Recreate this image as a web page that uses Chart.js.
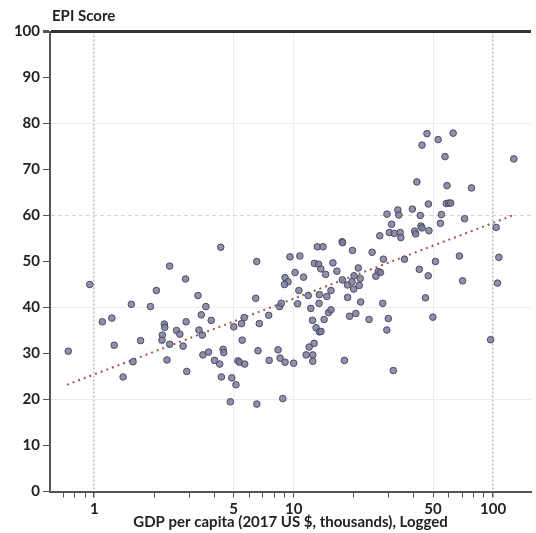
<!DOCTYPE html>
<html>
<head>
<meta charset="utf-8">
<script src="https://cdn.jsdelivr.net/npm/chart.js@4"></script>
<style>
  html, body { margin: 0; padding: 0; background: #fff; }
  canvas { display: block; }
</style>
</head>
<body>
<canvas id="epiChart" width="536" height="533"></canvas>
<script>
// GDP per capita (2017 US $, thousands)
const gdp = [
  0.741, 0.950, 1.098, 1.226, 1.259, 1.396, 1.535, 1.565, 1.707, 1.914,
  2.050, 2.389, 2.246, 2.256, 2.195, 2.188, 2.389, 2.316, 2.588, 2.687,
  2.791, 2.869, 2.888, 2.911, 3.312, 3.443, 3.629, 3.350, 3.483, 3.507,
  3.743, 3.861, 4.009, 4.259, 4.342, 4.428, 4.458, 4.813, 4.896, 5.136,
  5.009, 5.255, 5.352, 5.520, 5.681, 5.477, 5.649, 6.455, 6.530, 6.727,
  6.627, 6.537, 7.497, 7.540, 8.356, 8.551, 9.054, 8.820, 10.00, 8.502,
  8.670, 9.054, 9.369, 9.000, 9.585, 10.17, 10.47, 4.307, 10.74, 12.71,
  13.34, 13.69, 15.74, 14.47, 16.48, 11.21, 10.62, 11.84, 13.46, 14.67,
  15.39, 17.57, 18.64, 19.63, 20.08, 20.01, 21.09, 21.58, 21.33, 18.64,
  21.68, 19.74, 12.19, 13.41, 14.97, 15.39, 14.22, 12.43, 12.96, 13.46,
  13.72, 19.07, 20.50, 12.67, 11.97, 11.56, 12.47, 12.47, 17.97, 17.51,
  17.60, 13.15, 14.04, 24.75, 28.19, 35.96, 51.43, 67.82, 106.9, 26.57,
  27.24, 25.82, 42.68, 47.31, 70.36, 105.3, 45.81, 27.97, 23.89, 29.85,
  49.93, 29.34, 97.20, 31.61, 46.62, 63.10, 53.04, 44.03, 57.45, 127.1,
  41.49, 58.78, 77.96, 47.42, 58.32, 59.94, 61.33, 39.40, 33.31, 33.69,
  29.38, 43.17, 55.08, 71.96, 30.99, 54.45, 43.52, 44.03, 47.70, 40.45,
  40.92, 30.20, 31.97, 34.23, 34.47, 27.03, 103.7
];

// EPI score
const epi = [
  30.5, 45.0, 36.9, 37.7, 31.8, 24.9, 40.7, 28.2, 32.8, 40.2,
  43.7, 49.0, 36.4, 35.7, 34.0, 32.9, 32.0, 28.6, 35.0, 34.2,
  31.6, 46.2, 36.9, 26.1, 42.6, 38.4, 40.2, 35.1, 34.0, 29.7,
  30.3, 37.2, 28.5, 27.7, 24.9, 30.9, 30.2, 19.5, 24.7, 23.2,
  35.8, 28.4, 28.1, 32.9, 27.7, 36.5, 37.8, 42.0, 50.0, 36.5,
  30.6, 19.0, 38.3, 28.5, 30.8, 29.0, 28.1, 20.2, 27.9, 40.2,
  40.9, 46.5, 45.6, 45.0, 51.0, 47.6, 40.8, 53.1, 51.2, 49.6,
  49.4, 48.4, 49.7, 47.2, 47.9, 46.6, 43.7, 42.6, 42.8, 42.4,
  43.7, 46.0, 44.9, 45.6, 46.9, 44.0, 48.6, 46.3, 44.8, 42.2,
  41.2, 52.4, 39.8, 40.9, 38.9, 39.5, 37.4, 37.2, 35.6, 34.7,
  34.8, 38.1, 38.7, 32.2, 31.4, 29.7, 29.7, 28.3, 28.5, 54.3,
  54.1, 53.2, 53.2, 52.0, 50.5, 50.5, 50.0, 51.2, 50.9, 47.8,
  47.6, 46.8, 48.3, 46.9, 45.8, 45.3, 42.1, 40.9, 37.4, 37.6,
  37.9, 35.1, 33.0, 26.3, 77.8, 77.9, 76.5, 75.3, 72.8, 72.3,
  67.3, 66.5, 66.0, 62.5, 62.6, 62.7, 62.7, 61.4, 61.2, 60.1,
  60.3, 60.0, 60.2, 59.3, 58.1, 58.3, 57.7, 57.3, 56.7, 56.6,
  56.0, 56.3, 56.1, 56.3, 55.2, 55.6, 57.4
];

// fitted trend (log GDP), end points
const trendX = [0.73, 127];
const trendY = [23.2, 60.1];

// x-axis ticks
const xTicks = [0.7, 0.8, 0.9, 1, 2, 3, 4, 5, 6, 7, 8, 9, 10, 20, 30, 40, 50, 60, 70, 80, 90, 100];
const xLabels = [1, 5, 10, 50, 100];

const FONT = "Lato, 'Noto Sans', sans-serif";

const topLabel = {
  id: 'topLabel',
  afterDraw(chart) {
    const ctx = chart.ctx;
    ctx.save();
    ctx.font = "bold 15px " + FONT;
    ctx.fillStyle = '#222';
    ctx.textBaseline = 'middle';
    ctx.textAlign = 'left';
    ctx.fillText('EPI Score', chart.chartArea.left + 2, 16);
    ctx.restore();
  }
};

new Chart(document.getElementById('epiChart'), {
  type: 'scatter',
  data: {
    datasets: [
      {
        data: gdp.map((g, i) => ({ x: g, y: epi[i] })),
        backgroundColor: 'rgba(125,125,155,0.85)',
        borderColor: '#4a4a66',
        borderWidth: 1,
        pointRadius: 3.3,
        order: 0
      },
      {
        type: 'line',
        data: trendX.map((g, i) => ({ x: g, y: trendY[i] })),
        borderColor: '#a5554f',
        borderWidth: 2,
        borderDash: [2, 4],
        pointRadius: 0,
        fill: false,
        order: 1
      }
    ]
  },
  options: {
    responsive: false,
    animation: false,
    layout: { padding: { top: 31.5, right: 0, left: 0, bottom: 0 } },
    plugins: {
      legend: { display: false },
      tooltip: { enabled: false }
    },
    scales: {
      x: {
        type: 'logarithmic',
        min: 0.6,
        max: 155,
        afterBuildTicks: (scale) => {
          scale.ticks = xTicks.map(v => ({ value: v }));
        },
        afterFit: (scale) => { scale.height = 41.5; },
        ticks: {
          autoSkip: false,
          maxRotation: 0,
          padding: 3,
          color: '#222',
          font: { family: FONT, size: 15, weight: 'bold' },
          callback: (v) => xLabels.includes(v) ? String(v) : ''
        },
        grid: {
          color: (c) => {
            const v = c.tick && c.tick.value;
            if (v === 1 || v === 100) return '#b8b8b8';
            if (v === 5 || v === 10 || v === 50) return '#ececec';
            return 'rgba(0,0,0,0)';
          },
          lineWidth: (c) => {
            const v = c.tick && c.tick.value;
            return (v === 1 || v === 100) ? 1.5 : 1;
          },
          tickColor: '#555',
          tickLength: 6
        },
        border: {
          color: '#555',
          width: 2,
          dash: (c) => {
            const v = c.tick && c.tick.value;
            return (v === 1 || v === 100) ? [2, 2] : [];
          }
        },
        title: {
          display: true,
          text: 'GDP per capita (2017 US $, thousands), Logged',
          color: '#222',
          font: { family: FONT, size: 15, weight: 'bold' },
          padding: { top: 0, bottom: 2 }
        }
      },
      y: {
        min: 0,
        max: 100,
        afterFit: (scale) => { scale.width = 50; },
        ticks: {
          stepSize: 10,
          padding: 3,
          color: '#222',
          font: { family: FONT, size: 15, weight: 'bold' }
        },
        grid: {
          color: (c) => {
            const v = c.tick && c.tick.value;
            if (v === 100) return '#333';
            if (v === 60) return '#d4d4d4';
            if (v === 20 || v === 40 || v === 80) return '#ececec';
            return 'rgba(0,0,0,0)';
          },
          lineWidth: (c) => (c.tick && c.tick.value === 100) ? 3 : 1,
          tickColor: '#555',
          tickLength: 7
        },
        border: {
          color: '#555',
          width: 2,
          dash: (c) => (c.tick && c.tick.value === 60) ? [4, 3] : []
        }
      }
    }
  },
  plugins: [topLabel]
});
</script>
</body>
</html>
